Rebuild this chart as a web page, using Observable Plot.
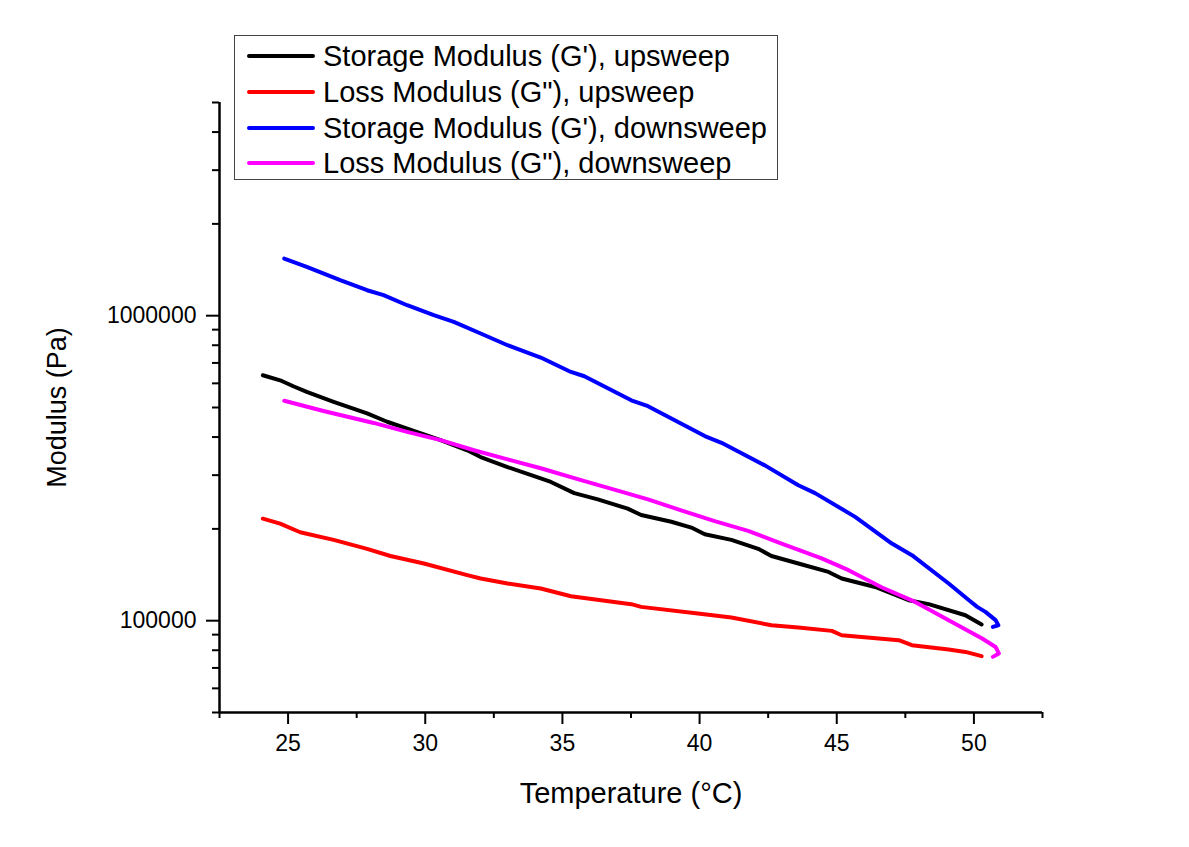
<!DOCTYPE html>
<html>
<head>
<meta charset="utf-8">
<script src="https://cdn.jsdelivr.net/npm/d3@7"></script>
<script src="https://cdn.jsdelivr.net/npm/@observablehq/plot@0.6"></script>
<style>
  body { margin: 0; background: #fff; font-family: "Liberation Sans", Arial, sans-serif; }
  #wrap { position: relative; width: 1189px; height: 847px; }
  #legend { position: absolute; left: 234px; top: 35px; width: 544px; height: 145px; border: 1px solid #444; box-sizing: border-box; background: #fff; }
  .row { position: absolute; left: 0; height: 36px; display: flex; align-items: center; font-size: 29px; color: #000; white-space: nowrap; }
  .sw { width: 68px; height: 4px; margin-left: 12px; margin-right: 8px; border-radius: 2px; }
</style>
</head>
<body>
<div id="wrap"></div>
<script>
// ---- Data ----
const seriesNames = [
  "Storage Modulus (G'), upsweep",
  "Loss Modulus (G\"), upsweep",
  "Storage Modulus (G'), downsweep",
  "Loss Modulus (G\"), downsweep"
];
const seriesColors = ["#000000", "#ff0000", "#0000ff", "#ff00ff"];

const tempStorageUp = [24.08, 24.71, 25.19, 25.68, 26.66, 27.88, 28.61, 29.58, 30.56, 31.53, 32.02, 33.00, 34.21, 34.58, 35.43, 36.29, 37.38, 37.87, 38.97, 39.70, 40.19, 41.16, 42.14, 42.62, 43.60, 44.70, 45.18, 46.40, 47.62, 48.35, 49.69, 50.28];
const gStorageUp = [638000, 614000, 587000, 563000, 522000, 478000, 449000, 419000, 391000, 362000, 344000, 319000, 293000, 285000, 262000, 250000, 233000, 222000, 211000, 202000, 192000, 184000, 172000, 163000, 154000, 144500, 137500, 129000, 116700, 113300, 104200, 97200];

const tempLossUp = [24.08, 24.71, 25.44, 26.66, 27.88, 28.73, 29.95, 31.53, 32.02, 33.00, 34.21, 35.31, 37.51, 37.87, 39.94, 41.16, 42.62, 43.60, 44.82, 45.18, 47.26, 47.74, 49.08, 49.69, 50.28];
const gLossUp = [216000, 208000, 195000, 184000, 172000, 163000, 154000, 141000, 137500, 132400, 127500, 120300, 113300, 111000, 105600, 102400, 96600, 95000, 92600, 89600, 86300, 83100, 80400, 79000, 76500];

const tempStorageDown = [24.86, 25.68, 26.90, 27.88, 28.48, 29.34, 30.31, 31.04, 32.02, 33.00, 33.48, 34.21, 35.31, 35.80, 37.51, 38.12, 40.19, 40.80, 42.38, 43.60, 44.21, 45.67, 47.01, 47.74, 49.08, 49.82, 50.12, 50.42, 50.79, 50.89, 50.69];
const gStorageDown = [1539000, 1446000, 1307000, 1212000, 1168000, 1082000, 1004000, 954000, 874000, 800000, 771000, 729000, 654000, 633000, 528000, 505000, 403000, 383000, 323000, 278000, 262000, 219000, 179000, 164000, 132400, 116700, 111000, 106900, 100400, 96600, 95400];

const tempLossDown = [24.86, 26.29, 28.12, 29.34, 30.56, 31.78, 33.00, 34.21, 35.68, 36.89, 38.12, 39.33, 40.55, 41.77, 42.99, 44.45, 45.43, 46.65, 47.86, 49.08, 50.30, 50.79, 50.91, 50.69];
const gLossDown = [526000, 487000, 445000, 416000, 391000, 362000, 338000, 316000, 289000, 269000, 250000, 230000, 212000, 197000, 179000, 160000, 146400, 128500, 115200, 100400, 87400, 82000, 78100, 76100];

const xTicks = [25, 30, 35, 40, 45, 50];
const xTickLabels = ["25", "30", "35", "40", "45", "50"];
const xMinorTicks = [22.5, 27.5, 32.5, 37.5, 42.5, 47.5, 52.5];
const yMajorTicks = [100000, 1000000];
const yTickLabels = ["100000", "1000000"];
const yMinorTicks = [50000, 60000, 70000, 80000, 90000, 200000, 300000, 400000, 500000, 600000, 700000, 800000, 900000, 2000000, 3000000, 4000000, 5000000];
const xDomain = [22.5, 52.5];
const yDomain = [50000, 5000000];
const xTitle = "Temperature (°C)";
const yTitle = "Modulus (Pa)";

// ---- Build tables ----
const toRows = (ts, gs) => ts.map((t, i) => ({T: t, G: gs[i]}));
const seriesData = [
  toRows(tempStorageUp, gStorageUp),
  toRows(tempLossUp, gLossUp),
  toRows(tempStorageDown, gStorageDown),
  toRows(tempLossDown, gLossDown)
];

const font = '"Liberation Sans", Arial, sans-serif';

const chart = Plot.plot({
  width: 1189,
  height: 847,
  marginLeft: 219,
  marginRight: 147,
  marginTop: 102,
  marginBottom: 135,
  style: {fontFamily: font, background: "#fff", color: "#000", overflow: "visible"},
  x: {domain: xDomain},
  y: {type: "log", domain: yDomain},
  marks: [
    Plot.axisX(xMinorTicks, {tickSize: 6, strokeWidth: 2, text: null, label: null}),
    Plot.axisX(xTicks, {tickSize: 12, strokeWidth: 2, tickPadding: 10, fontSize: 23, label: null,
      tickFormat: d => xTickLabels[xTicks.indexOf(d)]}),
    Plot.axisY(yMinorTicks, {tickSize: 7, strokeWidth: 2, text: null, label: null}),
    Plot.axisY(yMajorTicks, {tickSize: 13, strokeWidth: 2, tickPadding: 10, fontSize: 23, label: null,
      tickFormat: d => yTickLabels[yMajorTicks.indexOf(d)]}),
    Plot.ruleY([yDomain[0]], {strokeWidth: 2.5}),
    Plot.ruleX([xDomain[0]], {strokeWidth: 2.5}),
    Plot.text([xTitle], {text: d => d, frameAnchor: "bottom", textAnchor: "middle", dy: 90, fontSize: 29}),
    Plot.text([yTitle], {text: d => d, frameAnchor: "left", textAnchor: "middle", dx: -162, rotate: -90, fontSize: 27}),
    ...seriesData.map((rows, k) => Plot.line(rows, {
      x: "T", y: "G", stroke: seriesColors[k], strokeWidth: 4,
      strokeLinejoin: "round", strokeLinecap: "round"
    }))
  ]
});

const wrap = document.getElementById("wrap");
wrap.appendChild(chart);

// Legend box (inside the plot area, top-left)
const legend = document.createElement("div");
legend.id = "legend";
const rowTops = [2, 38, 74, 109];
seriesNames.forEach((name, k) => {
  const row = document.createElement("div");
  row.className = "row";
  row.style.top = rowTops[k] + "px";
  const sw = document.createElement("div");
  sw.className = "sw";
  sw.style.background = seriesColors[k];
  const label = document.createElement("span");
  label.textContent = name;
  row.appendChild(sw);
  row.appendChild(label);
  legend.appendChild(row);
});
wrap.appendChild(legend);
</script>
</body>
</html>
